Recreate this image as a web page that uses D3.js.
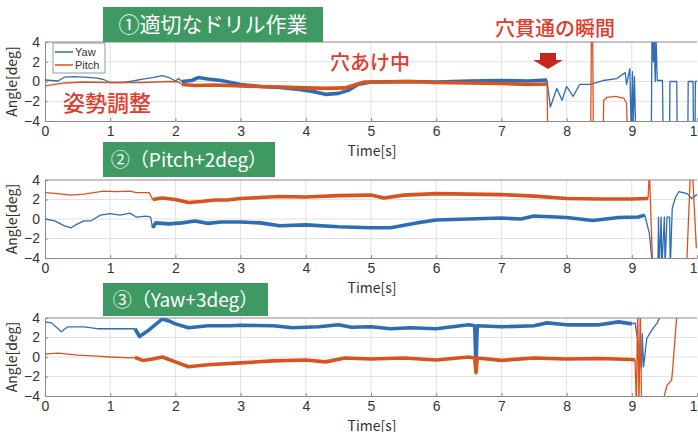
<!DOCTYPE html>
<html>
<head>
<meta charset="utf-8">
<script src="https://cdn.jsdelivr.net/npm/d3@7"></script>
<style>
  body { margin: 0; background: #fff; }
  text { font-family: "Noto Sans CJK JP", "Noto Sans", sans-serif; }
</style>
</head>
<body>
<script>
// time axis / angle axis ticks
var xTicks = [0, 1, 2, 3, 4, 5, 6, 7, 8, 9, 10];
var yTicks = [-4, -2, 0, 2, 4];
var seriesNames = ["Yaw", "Pitch"];
var panelTitles = ["①適切なドリル作業", "②（Pitch+2deg）", "③（Yaw+3deg）"];

// panel 1 : [time, angle]
var p1YawCalm = [[0,0.15],[0.1,0.1],[0.2,0.05],[0.3,0.45],[0.45,0.5],[0.6,0.45],[0.8,0.35],[0.9,0.2],[1.0,-0.1],[1.2,-0.1],[1.35,0.05],[1.5,0.25],[1.65,0.4],[1.8,0.6],[1.9,0.4],[2.0,0.05],[2.05,0.3],[2.1,0.0]];
var p1YawDrill = [[2.1,0.0],[2.25,0.1],[2.35,0.4],[2.5,0.25],[2.7,0.1],[3.0,-0.3],[3.3,-0.5],[3.6,-0.6],[3.9,-0.8],[4.1,-1.0],[4.3,-1.3],[4.5,-1.2],[4.65,-0.9],[4.8,-0.3],[5.0,-0.05],[5.5,0.0],[6.0,-0.05],[6.5,0.05],[7.0,0.1],[7.4,0.05],[7.7,0.15]];
var p1YawAfter = [[7.7,0.15],[7.75,-2.6],[7.85,-0.7],[7.93,-1.9],[8.0,-0.5],[8.1,-1.5],[8.2,-0.3],[8.36,-0.3],[8.56,0.1],[8.77,0.3],[8.9,0.9],[8.92,-0.3],[8.97,1.3],[8.99,-5],[9.01,1.0],[9.02,-5],[9.04,0.5],[9.06,-5],[9.3,-5],[9.31,5],[9.33,2],[9.34,5],[9.36,0],[9.37,5],[9.39,0.1],[9.47,0.1],[9.48,-5],[9.58,-5],[9.585,0],[9.69,0],[9.695,-5],[9.86,-5],[9.865,0],[9.94,0],[9.945,-5],[9.97,-5],[9.975,0],[10,0]];
var p1PitchCalm = [[0,-0.45],[0.15,-0.3],[0.3,-0.15],[0.6,-0.05],[1.0,-0.1],[1.5,-0.1],[1.9,0.0],[2.05,-0.05],[2.1,-0.3]];
var p1PitchDrill = [[2.1,-0.3],[2.3,-0.4],[2.6,-0.35],[3.0,-0.45],[3.3,-0.5],[3.6,-0.55],[4.0,-0.65],[4.3,-0.7],[4.6,-0.65],[4.75,-0.35],[4.9,-0.05],[5.2,-0.05],[5.6,0.0],[6.0,-0.1],[6.5,-0.15],[7.0,-0.2],[7.4,-0.3],[7.7,-0.25]];
var p1PitchAfter = [[7.7,-0.25],[7.71,-5],[8.37,-5],[8.38,5],[8.4,5],[8.41,-5],[8.56,-5],[8.57,-1.9],[8.62,-1.6],[8.75,-1.5],[8.88,-1.7],[8.92,-2.2],[8.93,-5],[10,-5]];

// panel 2
var p2YawCalm = [[0,0.0],[0.15,-0.2],[0.3,-0.7],[0.4,-0.9],[0.5,-0.5],[0.6,-0.2],[0.7,-0.2],[0.85,0.4],[1.0,0.55],[1.15,0.4],[1.3,0.6],[1.4,0.2],[1.55,0.3],[1.62,0.2],[1.65,-0.9]];
var p2YawDrill = [[1.65,-0.9],[1.7,-0.4],[1.9,-0.5],[2.1,-0.4],[2.3,-0.2],[2.5,-0.45],[2.7,-0.3],[3.0,-0.3],[3.3,-0.4],[3.6,-0.7],[4.0,-0.6],[4.5,-0.8],[5.0,-0.9],[5.3,-0.9],[5.7,-0.4],[6.0,-0.1],[6.5,0.0],[7.0,0.1],[7.3,0.0],[7.5,0.3],[8.0,0.15],[8.4,-0.15],[8.8,0.15],[9.1,0.2],[9.2,0.4]];
var p2YawAfter = [[9.2,0.4],[9.27,-1.5],[9.32,-5],[9.4,-5],[9.41,0.2],[9.42,-5],[9.45,0.2],[9.46,-5],[9.5,0.2],[9.51,-5],[9.54,0.2],[9.58,0.2],[9.59,-5],[9.6,-3],[9.62,1.1],[9.67,2.2],[9.72,2.8],[9.85,2.6],[9.92,2.1],[10,2.5]];
var p2PitchCalm = [[0,2.7],[0.2,2.6],[0.4,2.45],[0.6,2.55],[0.8,2.75],[0.9,2.85],[1.1,2.8],[1.3,2.85],[1.4,2.7],[1.6,2.7],[1.65,2.0]];
var p2PitchDrill = [[1.65,2.0],[1.8,2.15],[2.0,2.0],[2.2,1.7],[2.4,1.8],[2.6,1.95],[2.8,1.95],[3.0,2.1],[3.3,2.2],[3.6,2.3],[4.0,2.25],[4.5,2.4],[5.0,2.45],[5.2,2.15],[5.5,2.45],[6.0,2.6],[6.5,2.55],[7.0,2.5],[7.5,2.35],[8.0,2.1],[8.5,2.05],[9.0,2.05],[9.25,2.1]];
var p2PitchAfter = [[9.25,2.1],[9.27,5],[9.32,-5],[9.84,-5],[9.9,5],[9.93,5],[9.99,-3]];

// panel 3
var p3YawCalm = [[0,3.6],[0.1,3.5],[0.25,2.6],[0.35,3.1],[0.6,3.1],[0.8,2.9],[1.0,2.9],[1.2,2.9],[1.38,2.9]];
var p3YawDrill = [[1.38,2.9],[1.45,2.1],[1.6,2.8],[1.8,3.9],[1.9,3.7],[2.0,3.4],[2.2,3.0],[2.5,3.2],[2.85,3.2],[3.0,3.25],[3.5,3.2],[3.8,3.0],[4.2,3.1],[4.5,3.3],[4.7,3.05],[5.0,3.1],[5.3,2.9],[5.6,3.0],[6.0,2.9],[6.5,3.3],[6.59,3.2],[6.61,-1.0],[6.63,3.2],[7.0,3.1],[7.5,3.2],[7.7,3.5],[8.0,3.3],[8.5,3.3],[8.8,3.6],[9.0,3.4]];
var p3YawAfter = [[9.0,3.4],[9.05,3.5],[9.1,1.4],[9.15,-1.1],[9.16,2.4],[9.18,-1.0],[9.23,1.9],[9.31,2.8],[9.39,3.5],[9.43,4.1],[10,5]];
var p3PitchCalm = [[0,0.3],[0.2,0.4],[0.5,0.2],[0.8,0.1],[1.0,0.0],[1.3,-0.1],[1.38,-0.05]];
var p3PitchDrill = [[1.38,-0.05],[1.5,-0.35],[1.65,-0.2],[1.8,0.0],[2.0,-0.5],[2.2,-1.0],[2.5,-0.8],[3.0,-0.6],[3.5,-0.4],[4.0,-0.3],[4.3,-0.5],[4.6,-0.1],[5.0,-0.2],[5.5,-0.1],[6.0,-0.3],[6.5,0.0],[6.59,-0.1],[6.61,-1.6],[6.63,-0.1],[7.0,-0.35],[7.5,-0.1],[8.0,-0.2],[8.5,-0.15],[9.0,-0.25],[9.05,-0.3]];
var p3PitchAfter = [[9.05,-0.3],[9.07,-5],[9.09,5],[9.11,-5],[9.13,5],[9.15,-5],[9.46,-5],[9.54,-2.9],[9.61,-2.4],[9.63,-1.0],[9.66,1.7],[9.69,4.2],[10,5]];

var width = 698, height = 432;
var blue = "#2e6db4", orange = "#d9531e", green = "#3e9a62", red = "#e23b2e";

var panels = [
    {top: 42, h: 79, title: [103, 7, 220, 35],
     yaw: [p1YawCalm, p1YawDrill, p1YawAfter], pitch: [p1PitchCalm, p1PitchDrill, p1PitchAfter]},
    {top: 180, h: 78, title: [103, 142, 172, 35],
     yaw: [p2YawCalm, p2YawDrill, p2YawAfter], pitch: [p2PitchCalm, p2PitchDrill, p2PitchAfter]},
    {top: 318, h: 78, title: [103, 283, 165, 33],
     yaw: [p3YawCalm, p3YawDrill, p3YawAfter], pitch: [p3PitchCalm, p3PitchDrill, p3PitchAfter]}
];

var svg = d3.select("body").append("svg")
    .attr("width", width)
    .attr("height", height);

var x = d3.scaleLinear().domain([0, 10]).range([45, 697]);

panels.forEach(function(p, i) {
    var y = d3.scaleLinear().domain([-4, 4]).range([p.top + p.h, p.top]);
    var g = svg.append("g");

    svg.append("clipPath").attr("id", "clip" + i)
        .append("rect")
        .attr("x", x(0)).attr("y", p.top)
        .attr("width", x(10) - x(0)).attr("height", p.h);

    // grid
    g.selectAll(".gx").data(xTicks.slice(1, -1)).enter().append("line")
        .attr("x1", d => x(d)).attr("x2", d => x(d))
        .attr("y1", p.top).attr("y2", p.top + p.h)
        .attr("stroke", "#e2e2e2");
    g.selectAll(".gy").data(yTicks.slice(1, -1)).enter().append("line")
        .attr("x1", x(0)).attr("x2", x(10))
        .attr("y1", d => y(d)).attr("y2", d => y(d))
        .attr("stroke", "#e2e2e2");

    // axes
    var xAxis = g.append("g")
        .attr("transform", "translate(0," + (p.top + p.h) + ")")
        .call(d3.axisBottom(x).tickValues(xTicks).tickSizeInner(-3).tickSizeOuter(0).tickPadding(5));
    var yAxis = g.append("g")
        .attr("transform", "translate(" + x(0) + ",0)")
        .call(d3.axisLeft(y).tickValues(yTicks).tickSizeInner(-3).tickSizeOuter(0).tickPadding(5)
            .tickFormat(d => d < 0 ? "\u2212" + Math.abs(d) : d));
    [xAxis, yAxis].forEach(function(a) {
        a.select(".domain").attr("stroke", "#8a8a8a");
        a.selectAll(".tick line").attr("stroke", "#8a8a8a");
        a.selectAll(".tick text").attr("fill", "#333").style("font-size", "14px")
            .style("font-family", "'Liberation Sans Narrow', 'Liberation Sans', Arial, sans-serif");
    });
    g.append("line").attr("x1", x(0)).attr("x2", x(10))
        .attr("y1", p.top).attr("y2", p.top).attr("stroke", "#8a8a8a");

    g.append("text")
        .attr("transform", "translate(17," + (p.top + p.h / 2) + ") rotate(-90)")
        .attr("text-anchor", "middle")
        .attr("fill", "#333")
        .style("font-size", "14px")
        .text("Angle[deg]");
    g.append("text")
        .attr("x", 372).attr("y", p.top + p.h + 35)
        .attr("text-anchor", "middle")
        .attr("fill", "#333")
        .style("font-size", "14px")
        .text("Time[s]");

    // data lines
    var line = d3.line().x(d => x(d[0])).y(d => y(d[1]));
    var lines = g.append("g").attr("clip-path", "url(#clip" + i + ")");
    var widths = [1.3, 3.6, 1.3];
    [[p.yaw, blue], [p.pitch, orange]].forEach(function(s) {
        s[0].forEach(function(seg, k) {
            lines.append("path")
                .datum(seg)
                .attr("d", line)
                .attr("fill", "none")
                .attr("stroke", s[1])
                .attr("stroke-width", widths[k])
                .attr("stroke-linejoin", "round");
        });
    });

    // title box
    var t = p.title;
    svg.append("rect")
        .attr("x", t[0]).attr("y", t[1])
        .attr("width", t[2]).attr("height", t[3])
        .attr("fill", green);
    svg.append("text")
        .attr("x", t[0] + t[2] / 2).attr("y", t[1] + t[3] / 2 + 7)
        .attr("text-anchor", "middle")
        .attr("fill", "#fff")
        .style("font-size", i === 0 ? "21px" : "19px")
        .text(panelTitles[i]);
});

// legend (panel 1)
var leg = svg.append("g");
leg.append("rect").attr("x", 53).attr("y", 43).attr("width", 52).attr("height", 30)
    .attr("fill", "#fff").attr("stroke", "#999");
seriesNames.forEach(function(name, i) {
    var yy = 52 + i * 13;
    leg.append("line").attr("x1", 55).attr("x2", 73).attr("y1", yy).attr("y2", yy)
        .attr("stroke", i === 0 ? blue : orange).attr("stroke-width", 1.5);
    leg.append("text").attr("x", 75).attr("y", yy + 4)
        .attr("fill", "#333")
        .style("font-size", "11px")
        .style("font-family", "'Liberation Sans', Arial, sans-serif")
        .text(name);
});

// annotations
svg.append("text").attr("x", 63).attr("y", 111)
    .attr("fill", red).style("font-size", "22px").style("font-weight", "500")
    .text("姿勢調整");
svg.append("text").attr("x", 330).attr("y", 70)
    .attr("fill", red).style("font-size", "20px").style("font-weight", "500")
    .text("穴あけ中");
svg.append("text").attr("x", 555).attr("y", 36)
    .attr("text-anchor", "middle")
    .attr("fill", red).style("font-size", "20px").style("font-weight", "500")
    .text("穴貫通の瞬間");
svg.append("path")
    .attr("d", "M540,53 L556,53 L556,60 L563,60 L548,69 L533,60 L540,60 Z")
    .attr("fill", "#c8261d");
</script>
</body>
</html>
